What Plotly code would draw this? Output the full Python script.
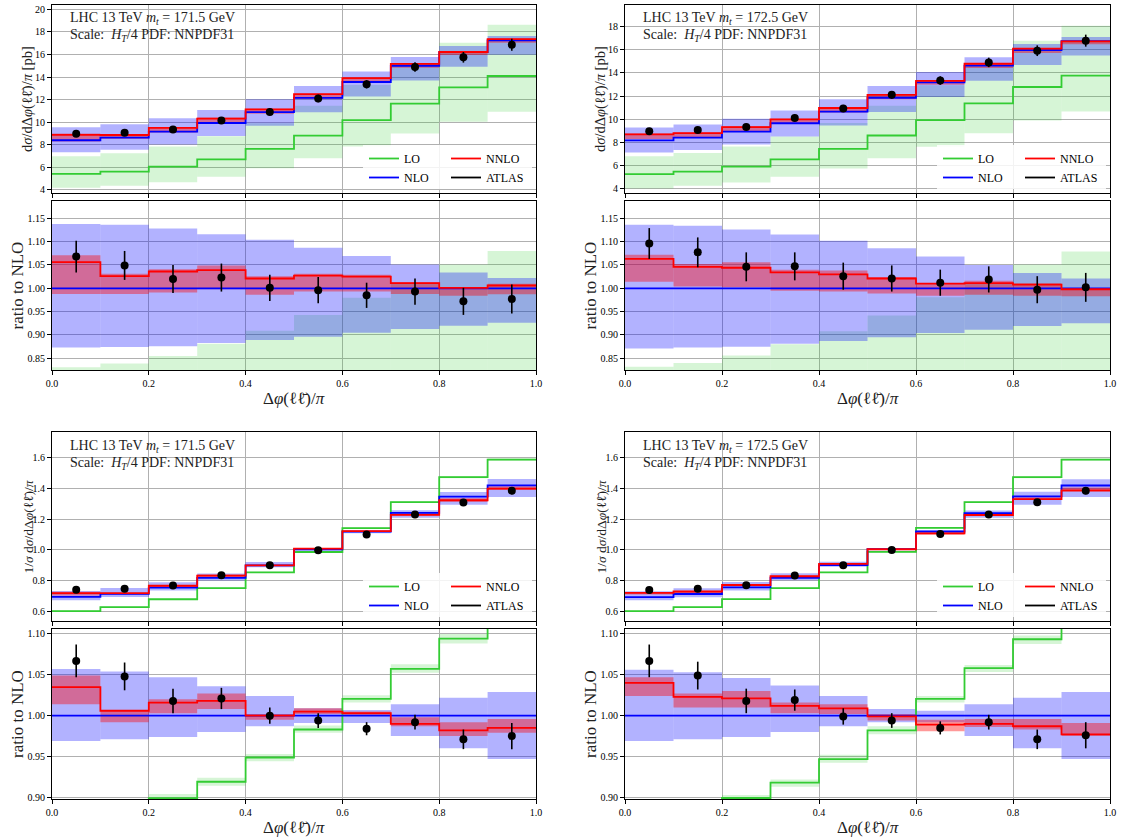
import plotly.graph_objects as go

# ---------------- data ----------------
BIN_EDGES = [0.0, 0.1, 0.2, 0.3, 0.4, 0.5, 0.6, 0.7, 0.8, 0.9, 1.0]
BIN_CENTERS = [0.05, 0.15, 0.25, 0.35, 0.45, 0.55, 0.65, 0.75, 0.85, 0.95]

# Top-left: absolute, m_t = 171.5 GeV  (main values in pb, *_R = ratio to NLO)
TL_NLO = [8.40, 8.64, 9.17, 9.93, 10.90, 12.15, 13.56, 15.00, 16.20, 17.25]
TL_LO = [5.42, 5.62, 6.06, 6.71, 7.63, 8.81, 10.19, 11.64, 13.09, 14.09]
TL_LO_DN = [4.20, 4.38, 4.68, 5.18, 5.92, 6.80, 7.85, 9.00, 10.03, 10.92]
TL_LO_UP_R = [0.831, 0.839, 0.855, 0.881, 0.909, 0.943, 0.980, 1.012, 1.051, 1.080]
TL_NLO_DN_R = [0.873, 0.874, 0.876, 0.883, 0.889, 0.896, 0.905, 0.913, 0.920, 0.926]
TL_NLO_UP_R = [1.138, 1.136, 1.128, 1.116, 1.104, 1.087, 1.069, 1.051, 1.034, 1.022]
TL_NNLO_R = [1.056, 1.026, 1.036, 1.039, 1.021, 1.027, 1.025, 1.011, 1.001, 1.006]
TL_NNLO_DN_R = [0.988, 0.988, 0.991, 0.998, 0.986, 0.993, 0.993, 0.988, 0.984, 0.987]
TL_NNLO_UP_R = [1.071, 1.031, 1.041, 1.049, 1.026, 1.031, 1.029, 1.013, 1.003, 1.010]
TL_ATLAS_R = [1.068, 1.049, 1.020, 1.023, 1.001, 0.996, 0.985, 0.993, 0.972, 0.977]
TL_ATLAS_ERR_R = [0.034, 0.031, 0.030, 0.030, 0.028, 0.028, 0.027, 0.028, 0.029, 0.031]

# Top-right: absolute, m_t = 172.5 GeV
TR_NLO = [8.16, 8.40, 8.91, 9.64, 10.64, 11.85, 13.18, 14.63, 15.97, 16.76]
TR_LO = [5.24, 5.45, 5.88, 6.52, 7.42, 8.58, 9.91, 11.36, 12.78, 13.76]
TR_LO_DN = [4.00, 4.23, 4.52, 5.01, 5.73, 6.60, 7.60, 8.78, 9.88, 10.66]
TR_LO_UP_R = [0.832, 0.840, 0.856, 0.880, 0.908, 0.942, 0.981, 1.012, 1.051, 1.079]
TR_NLO_DN_R = [0.871, 0.873, 0.875, 0.881, 0.887, 0.895, 0.904, 0.911, 0.919, 0.925]
TR_NLO_UP_R = [1.136, 1.134, 1.126, 1.115, 1.102, 1.086, 1.068, 1.050, 1.033, 1.021]
TR_NNLO_R = [1.063, 1.046, 1.044, 1.034, 1.030, 1.021, 1.010, 1.011, 1.008, 0.998]
TR_NNLO_DN_R = [1.014, 1.004, 1.002, 0.995, 0.993, 0.989, 0.984, 0.986, 0.984, 0.983]
TR_NNLO_UP_R = [1.072, 1.052, 1.056, 1.040, 1.038, 1.024, 1.011, 1.016, 1.011, 1.000]
TR_ATLAS_R = [1.096, 1.077, 1.046, 1.047, 1.026, 1.021, 1.012, 1.019, 0.997, 1.002]
TR_ATLAS_ERR_R = [0.033, 0.032, 0.031, 0.030, 0.029, 0.028, 0.028, 0.028, 0.029, 0.031]

# Bottom-left: normalised, m_t = 171.5 GeV
BL_NLO = [0.692, 0.712, 0.753, 0.816, 0.898, 1.002, 1.118, 1.240, 1.347, 1.420]
BL_LO = [0.600, 0.626, 0.677, 0.750, 0.852, 0.985, 1.141, 1.311, 1.474, 1.588]
BL_LO_DN = [0.597, 0.623, 0.673, 0.746, 0.848, 0.981, 1.136, 1.305, 1.466, 1.580]
BL_LO_UP_R = [0.871, 0.885, 0.904, 0.924, 0.953, 0.988, 1.025, 1.063, 1.100, 1.124]
BL_NLO_DN_R = [0.969, 0.971, 0.974, 0.980, 0.987, 0.991, 0.991, 0.975, 0.960, 0.947]
BL_NLO_UP_R = [1.057, 1.054, 1.047, 1.036, 1.024, 1.009, 1.007, 1.014, 1.022, 1.029]
BL_NNLO_R = [1.035, 1.006, 1.016, 1.018, 1.000, 1.005, 1.003, 0.990, 0.982, 0.985]
BL_NNLO_DN_R = [1.014, 0.992, 1.003, 1.008, 0.995, 1.002, 1.000, 0.987, 0.975, 0.979]
BL_NNLO_UP_R = [1.049, 1.007, 1.020, 1.027, 1.002, 1.009, 1.005, 0.998, 0.992, 0.996]
BL_ATLAS_R = [1.067, 1.048, 1.018, 1.021, 1.000, 0.994, 0.984, 0.992, 0.971, 0.975]
BL_ATLAS_ERR_R = [0.020, 0.017, 0.015, 0.013, 0.010, 0.009, 0.008, 0.009, 0.012, 0.016]

# Bottom-right: normalised, m_t = 172.5 GeV
BR_NLO = [0.691, 0.711, 0.754, 0.817, 0.900, 1.004, 1.119, 1.239, 1.348, 1.419]
BR_LO = [0.600, 0.626, 0.678, 0.750, 0.852, 0.986, 1.142, 1.311, 1.474, 1.588]
BR_LO_DN = [0.597, 0.623, 0.674, 0.746, 0.848, 0.981, 1.137, 1.305, 1.466, 1.580]
BR_LO_UP_R = [0.872, 0.886, 0.903, 0.922, 0.952, 0.987, 1.024, 1.062, 1.098, 1.124]
BR_NLO_DN_R = [0.969, 0.971, 0.974, 0.980, 0.987, 0.992, 0.992, 0.975, 0.960, 0.947]
BR_NLO_UP_R = [1.056, 1.053, 1.046, 1.037, 1.024, 1.008, 1.006, 1.014, 1.022, 1.029]
BR_NNLO_R = [1.040, 1.023, 1.021, 1.012, 1.009, 0.999, 0.989, 0.990, 0.987, 0.977]
BR_NNLO_DN_R = [1.024, 1.010, 1.010, 1.003, 1.002, 0.994, 0.981, 0.986, 0.983, 0.975]
BR_NNLO_UP_R = [1.047, 1.027, 1.030, 1.016, 1.014, 1.002, 0.995, 0.996, 0.996, 0.991]
BR_ATLAS_R = [1.067, 1.049, 1.018, 1.019, 0.999, 0.994, 0.985, 0.992, 0.971, 0.976]
BR_ATLAS_ERR_R = [0.020, 0.017, 0.015, 0.013, 0.010, 0.009, 0.008, 0.009, 0.012, 0.016]

MASS_LABELS = ["171.5", "172.5"]
LEGEND_NAMES = ["LO", "NLO", "NNLO", "ATLAS"]

# ---------------- style / layout ----------------
W, H = 1122, 839
FONT = "Liberation Serif, DejaVu Serif, serif"
LL = '<span style="font-family:DejaVu Serif">ℓℓ̄</span>'
C_LO, C_NLO, C_NNLO = "#33cc33", "#0000ff", "#ff0000"
B_LO, B_NLO, B_NNLO = "rgba(50,205,50,0.2)", "rgba(0,0,255,0.3)", "rgba(255,0,0,0.4)"
GRID = "#b0b0b0"

COL_X = [(52, 536), (625, 1110)]
MAIN_Y = [(5, 193), (432, 621)]
RATIO_Y = [(201, 370), (629, 799)]

fig = go.Figure()
annotations = []
shapes = []
layout_axes = {}


def xdom(px0, px1):
    return [px0 / W, px1 / W]


def ydom(py0, py1):
    return [1 - py1 / H, 1 - py0 / H]


def mul(a, b):
    return [x * y for x, y in zip(a, b)]


def div(a, b):
    return [x / y for x, y in zip(a, b)]


def band(xa, ya, lo_vals, hi_vals, color):
    fig.add_trace(go.Bar(
        x=BIN_CENTERS, y=[h - l for l, h in zip(lo_vals, hi_vals)], base=lo_vals,
        width=0.1, marker=dict(color=color, line=dict(width=0)),
        xaxis=xa, yaxis=ya, showlegend=False, hoverinfo="skip"))


def step(xa, ya, vals, color, name=None, legend=None):
    fig.add_trace(go.Scatter(
        x=BIN_EDGES, y=list(vals) + [vals[-1]], mode="lines",
        line=dict(color=color, width=1.8, shape="hv"),
        xaxis=xa, yaxis=ya, name=name if name else "",
        showlegend=name is not None, legend=legend, hoverinfo="skip"))


def points(xa, ya, vals, errs):
    fig.add_trace(go.Scatter(
        x=BIN_CENTERS, y=vals, mode="markers",
        marker=dict(color="black", size=8),
        error_y=dict(type="data", array=errs, color="black", thickness=1.6, width=0),
        xaxis=xa, yaxis=ya, showlegend=False, hoverinfo="skip"))


def axis_common():
    return dict(ticks="outside", ticklen=4, tickwidth=1, tickcolor="black",
                showgrid=True, gridcolor=GRID, gridwidth=0.8,
                showline=True, linecolor="black", linewidth=1.2, mirror=True,
                zeroline=False, tickfont=dict(family=FONT, size=10, color="black"))


def add_panel(p, col, row, nlo, lo, lo_dn, lo_up_r, nlo_dn_r, nlo_up_r,
              nnlo_r, nnlo_dn_r, nnlo_up_r, atlas_r, atlas_err_r,
              main_range, main_dtick, main_fmt, ratio_range, ylabel, ysize, mass):
    im, ir = 2 * p + 1, 2 * p + 2
    xm, ym = ("x" if im == 1 else f"x{im}"), ("y" if im == 1 else f"y{im}")
    xr, yr = f"x{ir}", f"y{ir}"
    legA = "legend" if p == 0 else f"legend{2 * p + 1}"
    legB = f"legend{2 * p + 2}"

    # main panel (absolute) values
    lo_up = mul(lo_up_r, nlo)
    nlo_dn, nlo_up = mul(nlo_dn_r, nlo), mul(nlo_up_r, nlo)
    nnlo = mul(nnlo_r, nlo)
    nnlo_dn, nnlo_up = mul(nnlo_dn_r, nlo), mul(nnlo_up_r, nlo)
    atlas, atlas_err = mul(atlas_r, nlo), mul(atlas_err_r, nlo)

    band(xm, ym, lo_dn, lo_up, B_LO)
    band(xm, ym, nlo_dn, nlo_up, B_NLO)
    band(xm, ym, nnlo_dn, nnlo_up, B_NNLO)
    step(xm, ym, lo, C_LO, LEGEND_NAMES[0], legA)
    step(xm, ym, nlo, C_NLO, LEGEND_NAMES[1], legA)
    step(xm, ym, nnlo, C_NNLO, LEGEND_NAMES[2], legB)
    fig.add_trace(go.Scatter(x=[None], y=[None], mode="lines",
                             line=dict(color="black", width=1.8),
                             name=LEGEND_NAMES[3], legend=legB, xaxis=xm, yaxis=ym))
    points(xm, ym, atlas, atlas_err)

    # ratio panel
    ones = div(nlo, nlo)
    band(xr, yr, div(lo_dn, nlo), lo_up_r, B_LO)
    band(xr, yr, nlo_dn_r, nlo_up_r, B_NLO)
    band(xr, yr, nnlo_dn_r, nnlo_up_r, B_NNLO)
    step(xr, yr, div(lo, nlo), C_LO)
    step(xr, yr, ones, C_NLO)
    step(xr, yr, nnlo_r, C_NNLO)
    points(xr, yr, atlas_r, atlas_err_r)

    x0, x1 = COL_X[col]
    mt, mb = MAIN_Y[row]
    rt, rb = RATIO_Y[row]
    ka = "" if im == 1 else str(im)
    layout_axes[f"xaxis{ka}"] = dict(axis_common(), domain=xdom(x0, x1), range=[0, 1],
                                     dtick=0.2, tick0=0, showticklabels=False, anchor=ym)
    layout_axes[f"yaxis{ka}"] = dict(axis_common(), domain=ydom(mt, mb), range=main_range,
                                     dtick=main_dtick, tick0=0, tickformat=main_fmt, anchor=xm)
    layout_axes[f"xaxis{ir}"] = dict(axis_common(), domain=xdom(x0, x1), range=[0, 1],
                                     dtick=0.2, tick0=0, tickformat=".1f", anchor=yr)
    layout_axes[f"yaxis{ir}"] = dict(axis_common(), domain=ydom(rt, rb), range=ratio_range,
                                     dtick=0.05, tick0=0, tickformat=".2f", anchor=xr)

    # legends (two columns) + white legend frame
    fig.update_layout({
        legA: dict(x=(x1 - 172) / W, y=1 - (mb - 49) / H, xanchor="left", yanchor="top",
                   bgcolor="rgba(0,0,0,0)", borderwidth=0, itemwidth=30,
                   font=dict(family=FONT, size=12, color="black"), tracegroupgap=0),
        legB: dict(x=(x1 - 90) / W, y=1 - (mb - 49) / H, xanchor="left", yanchor="top",
                   bgcolor="rgba(0,0,0,0)", borderwidth=0, itemwidth=30,
                   font=dict(family=FONT, size=12, color="black"), tracegroupgap=0),
    })
    shapes.append(dict(type="rect", xref="paper", yref="paper", layer="above",
                       x0=(x1 - 173) / W, x1=(x1 - 4) / W,
                       y0=1 - (mb - 4) / H, y1=1 - (mb - 48) / H,
                       fillcolor="rgba(255,255,255,0.85)", line=dict(width=0)))

    # text
    annotations.append(dict(xref="paper", yref="paper", x=(x0 + 16) / W, y=1 - (mt + 14) / H,
                            xanchor="left", yanchor="middle", showarrow=False,
                            text=f"LHC 13 TeV <i>m<sub>t</sub></i> = {mass} GeV",
                            font=dict(family=FONT, size=14, color="#222")))
    annotations.append(dict(xref="paper", yref="paper", x=(x0 + 16) / W, y=1 - (mt + 31) / H,
                            xanchor="left", yanchor="middle", showarrow=False,
                            text="Scale:  <i>H<sub>T</sub></i>/4 PDF: NNPDF31",
                            font=dict(family=FONT, size=14, color="#222")))
    annotations.append(dict(xref="paper", yref="paper", x=(x0 - 25) / W, y=1 - ((mt + mb) / 2) / H,
                            xanchor="center", yanchor="middle", showarrow=False, textangle=-90,
                            text=ylabel, font=dict(family=FONT, size=ysize, color="#222")))
    annotations.append(dict(xref="paper", yref="paper", x=(x0 - 35) / W, y=1 - ((rt + rb) / 2) / H,
                            xanchor="center", yanchor="middle", showarrow=False, textangle=-90,
                            text="ratio to NLO", font=dict(family=FONT, size=17, color="#222")))
    annotations.append(dict(xref="paper", yref="paper", x=((x0 + x1) / 2) / W, y=1 - (rb + 28) / H,
                            xanchor="center", yanchor="middle", showarrow=False,
                            text=f"Δ<i>φ</i>({LL})/<i>π</i>",
                            font=dict(family=FONT, size=17, color="#222")))


YL_ABS = f"d<i>σ</i>/dΔ<i>φ</i>({LL})/<i>π</i> [pb]"
YL_NORM = f"1/<i>σ</i> d<i>σ</i>/dΔ<i>φ</i>({LL})/<i>π</i>"

add_panel(0, 0, 0, TL_NLO, TL_LO, TL_LO_DN, TL_LO_UP_R, TL_NLO_DN_R, TL_NLO_UP_R,
          TL_NNLO_R, TL_NNLO_DN_R, TL_NNLO_UP_R, TL_ATLAS_R, TL_ATLAS_ERR_R,
          [3.73, 20.38], 2, "d", [0.825, 1.187], YL_ABS, 14.5, MASS_LABELS[0])
add_panel(1, 1, 0, TR_NLO, TR_LO, TR_LO_DN, TR_LO_UP_R, TR_NLO_DN_R, TR_NLO_UP_R,
          TR_NNLO_R, TR_NNLO_DN_R, TR_NNLO_UP_R, TR_ATLAS_R, TR_ATLAS_ERR_R,
          [3.6, 19.88], 2, "d", [0.825, 1.187], YL_ABS, 14.5, MASS_LABELS[1])
add_panel(2, 0, 1, BL_NLO, BL_LO, BL_LO_DN, BL_LO_UP_R, BL_NLO_DN_R, BL_NLO_UP_R,
          BL_NNLO_R, BL_NNLO_DN_R, BL_NNLO_UP_R, BL_ATLAS_R, BL_ATLAS_ERR_R,
          [0.535, 1.768], 0.2, ".1f", [0.898, 1.106], YL_NORM, 13.5, MASS_LABELS[0])
add_panel(3, 1, 1, BR_NLO, BR_LO, BR_LO_DN, BR_LO_UP_R, BR_NLO_DN_R, BR_NLO_UP_R,
          BR_NNLO_R, BR_NNLO_DN_R, BR_NNLO_UP_R, BR_ATLAS_R, BR_ATLAS_ERR_R,
          [0.535, 1.768], 0.2, ".1f", [0.898, 1.106], YL_NORM, 13.5, MASS_LABELS[1])

fig.update_layout(layout_axes)
fig.update_layout(
    width=W, height=H, margin=dict(l=0, r=0, t=0, b=0, autoexpand=False),
    paper_bgcolor="white", plot_bgcolor="white", barmode="overlay",
    font=dict(family=FONT, color="black"), showlegend=True,
    annotations=annotations, shapes=shapes)

fig.write_html("out.html")
